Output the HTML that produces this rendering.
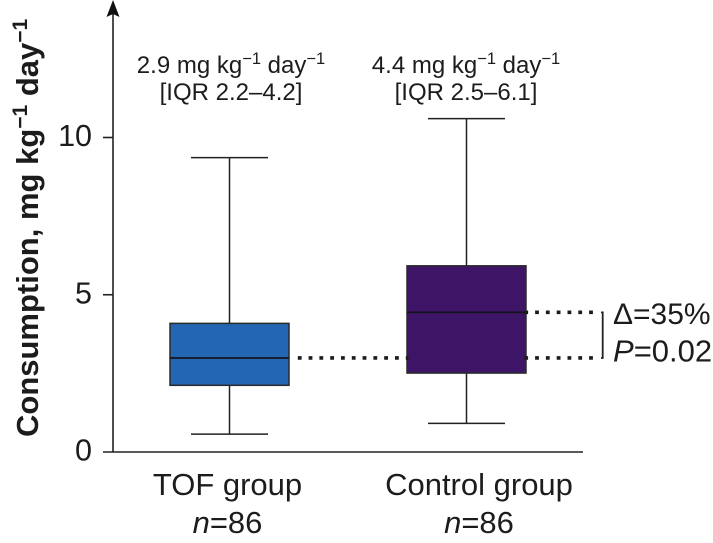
<!DOCTYPE html>
<html>
<head>
<meta charset="utf-8">
<title>Consumption box plot</title>
<style>
html,body{margin:0;padding:0;background:#fff;width:713px;height:543px;overflow:hidden}
svg{display:block}
text{font-family:"Liberation Sans",sans-serif;fill:#1c1c1c}
</style>
</head>
<body>
<svg id="chart" width="713" height="543" viewBox="0 0 713 543" xmlns="http://www.w3.org/2000/svg">
  <g id="marks"></g>
  <text transform="translate(38,437) rotate(-90)" font-size="31" font-weight="bold">Consumption, mg kg<tspan font-size="21" dy="-11">−1</tspan><tspan dy="11"> day</tspan><tspan font-size="21" dy="-11">−1</tspan></text>
  <text x="231" y="73" font-size="24" text-anchor="middle">2.9 mg kg<tspan font-size="16.5" dy="-9">−1</tspan><tspan dy="9"> day</tspan><tspan font-size="16.5" dy="-9">−1</tspan></text>
  <text x="231" y="100" font-size="24" text-anchor="middle">[IQR 2.2–4.2]</text>
  <text x="466" y="73" font-size="24" text-anchor="middle">4.4 mg kg<tspan font-size="16.5" dy="-9">−1</tspan><tspan dy="9"> day</tspan><tspan font-size="16.5" dy="-9">−1</tspan></text>
  <text x="466" y="100" font-size="24" text-anchor="middle">[IQR 2.5–6.1]</text>
  <text x="613" y="324" font-size="30" style="font-family:'Liberation Sans','DejaVu Sans',sans-serif">Δ=35%</text>
  <text x="613" y="361.5" font-size="31"><tspan font-style="italic">P</tspan>=0.02</text>
</svg>
<script>
var categories = ['TOF group', 'Control group'];
var sampleSizes = ['86', '86'];
var whiskerHigh = [9.36, 10.6];
var quartile3 = [4.09, 5.92];
var medians = [2.99, 4.44];
var quartile1 = [2.12, 2.51];
var whiskerLow = [0.57, 0.91];
var boxColors = ['#2366b3', '#3e1566'];
var yTicks = [0, 5, 10];

var svgNS = 'http://www.w3.org/2000/svg';
var marks = document.getElementById('marks');
var ink = '#222222';
function yPos(v) { return 452 - v * 31.45; }
function xPos(i) { return 229.5 + i * 237; }
function labelX(i) { return 227.5 + i * 251.5; }
function make(tag, attrs, parent) {
  var el = document.createElementNS(svgNS, tag);
  for (var k in attrs) { el.setAttribute(k, attrs[k]); }
  (parent || marks).appendChild(el);
  return el;
}

var yAxis = make('line', {x1: 113, x2: 113, y1: 452, y2: 12, stroke: ink, 'stroke-width': 1.6});


var arrow = make('polygon', {points: '113,0 106.5,17 113,14 119.5,17', fill: '#111'});


var xAxis = make('line', {x1: 103, x2: 583, y1: yPos(0), y2: yPos(0), stroke: ink, 'stroke-width': 1.6});



yTicks.forEach(function (t) {
  if (t !== 0) {
    var tick = make('line', {x1: 103, x2: 113, y1: yPos(t), y2: yPos(t), stroke: ink, 'stroke-width': 1.6});
    
    
  }
  var label = make('text', {x: 92, y: yPos(t) + 8.5, 'font-size': 30.5, 'text-anchor': 'end'});
  label.textContent = String(t);
  
  
});

categories.forEach(function (name, i) {
  var cx = xPos(i);
  var g = make('g', {});
  
  
  var stem = make('line', {x1: cx, x2: cx, y1: yPos(whiskerHigh[i]), y2: yPos(whiskerLow[i]), stroke: ink, 'stroke-width': 1.5}, g);
  
  
  var capTop = make('line', {x1: cx - 38.5, x2: cx + 38.5, y1: yPos(whiskerHigh[i]), y2: yPos(whiskerHigh[i]), stroke: ink, 'stroke-width': 1.5}, g);
  
  
  var capLow = make('line', {x1: cx - 38.5, x2: cx + 38.5, y1: yPos(whiskerLow[i]), y2: yPos(whiskerLow[i]), stroke: ink, 'stroke-width': 1.5}, g);
  
  
  var box = make('rect', {x: cx - 59.5, width: 119, y: yPos(quartile3[i]), height: yPos(quartile1[i]) - yPos(quartile3[i]), fill: boxColors[i], stroke: '#2a2a2a', 'stroke-width': 1.5}, g);
  
  
  var med = make('line', {x1: cx - 59.5, x2: cx + 59.5, y1: yPos(medians[i]), y2: yPos(medians[i]), stroke: '#14141c', 'stroke-width': 1.7}, g);
  
  
  var label = make('text', {x: labelX(i), y: 495, 'font-size': 31, 'text-anchor': 'middle'});
  label.textContent = name;
  
  
  var n = make('text', {x: labelX(i), y: 533, 'font-size': 31, 'text-anchor': 'middle'});
  var nItalic = make('tspan', {'font-style': 'italic'}, n);
  nItalic.textContent = 'n';
  var nValue = make('tspan', {}, n);
  nValue.textContent = '=' + sampleSizes[i];
  
  
});

var dotStyle = {stroke: '#1c1c1c', 'stroke-width': 3.6, 'stroke-dasharray': '3.8 7'};
function dotted(x1, x2, v, name) {
  var d = make('line', {x1: x1, x2: x2, y1: yPos(v), y2: yPos(v)});
  for (var k in dotStyle) { d.setAttribute(k, dotStyle[k]); }
  
  
}
dotted(xPos(0) + 68.3, xPos(1) - 58, medians[0], 'reference-line-tof-to-control');
dotted(xPos(1) + 57.8, 595, medians[0], 'reference-line-tof-right');
dotted(xPos(1) + 57.8, 595, medians[1], 'reference-line-control-right');

var bracket = make('path', {d: 'M601 ' + yPos(medians[1]) + ' H602.7 V' + yPos(medians[0]) + ' H601', fill: 'none', stroke: ink, 'stroke-width': 1.8});


</script>
</body>
</html>
